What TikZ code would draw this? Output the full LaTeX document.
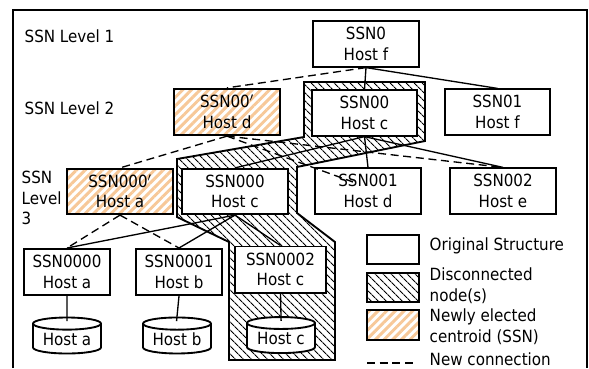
\documentclass[tikz,border=0pt]{standalone}
\usepackage{fontspec}
\setmainfont{DejaVu Sans Condensed}
\usetikzlibrary{shapes.geometric,patterns.meta}

\definecolor{centroid}{RGB}{247,200,152}

\begin{document}
\begin{tikzpicture}[x=0.75pt, y=-0.75pt,
        font=\fontsize{12.6}{15.5}\selectfont,
        ssn/.style={draw, line width=1.4pt, fill=white, align=center,
            minimum width=79pt, minimum height=34pt, inner sep=0pt},
        leaf/.style={ssn, minimum width=64.6pt, minimum height=34.6pt},
        elected/.style={ssn, preaction={fill=white},
            pattern={Lines[angle=45, distance=4.6pt, line width=2.2pt]}, pattern color=centroid},
        gone/.style={draw, line width=1.4pt,
            pattern={Lines[angle=-45, distance=4pt, line width=0.9pt]}},
        host/.style={draw, line width=1.4pt, fill=white, cylinder, shape border rotate=90,
            aspect=0.25, minimum width=51pt, minimum height=27pt, inner sep=0pt},
        link/.style={line width=1pt},
        newlink/.style={line width=1pt, dash pattern=on 6pt off 3.5pt},
        level/.style={align=left, anchor=west},
    ]
    \useasboundingbox (0,0) rectangle (589,368);

    % frame (open at the bottom)
    \draw[line width=1.5pt] (13,368) -- (13,10) -- (587,10) -- (587,368);

    % disconnected part of the tree
    \draw[gone] (304,82) -- (425,82) -- (425,141) -- (297,167) -- (297,213) -- (335,242)
        -- (335,360) -- (229,360) -- (229,242) -- (177,217) -- (177,159) -- (304,137) -- cycle;

    % levels
    \node[level] (lv1) at (20,36) {SSN Level 1};
    \node[level] (lv2) at (20,108) {SSN Level 2};
    \node[level] (lv3) at (17,198) {SSN\\Level\\3};

    % SSN nodes
    \node[ssn] (s0) at (366,44) {SSN0\\Host f};
    \node[elected] (s00p) at (227,112) {SSN00$'$\\Host d};
    \node[ssn] (s00) at (364.5,113) {SSN00\\Host c};
    \node[ssn] (s01) at (497.5,112) {SSN01\\Host f};
    \node[elected] (s000p) at (120,191.5) {SSN000$'$\\Host a};
    \node[ssn] (s000) at (235,191.5) {SSN000\\Host c};
    \node[ssn] (s001) at (368,191) {SSN001\\Host d};
    \node[ssn] (s002) at (503,191) {SSN002\\Host e};
    \node[leaf] (s0000) at (67,272) {SSN0000\\Host a};
    \node[leaf] (s0001) at (179,272) {SSN0001\\Host b};
    \node[leaf, minimum width=68pt] (s0002) at (280.5,269.5) {SSN0002\\Host c};

    % hosts
    \node[host] (ha) at (67,339) {Host a};
    \node[host] (hb) at (177,339) {Host b};
    \node[host] (hc) at (281,338.5) {Host c};

    % original links
    \draw[link] (s0.south) -- (s00.north);
    \draw[link] (s0.south) -- (s01.north);
    \draw[link] (s00.south) -- (s000.north);
    \draw[link] (s00.south) -- (s001.north);
    \draw[link] (s00.south) -- (s002.north);
    \draw[link] (s000.south) -- (s0000.north);
    \draw[link] (s000.south) -- (s0001.north);
    \draw[link] (s000.south) -- (s0002.north);
    \draw[link, shorten >=-3.5pt] (s0000.south) -- (ha.north);
    \draw[link, shorten >=-3.5pt] (s0001.south) -- (hb.north);
    \draw[link, shorten >=-3.5pt] (s0002.south) -- (hc.north);

    % new links
    \coordinate (s001in) at (353,182);
    \draw[newlink] (s0.south) -- (s00p.north);
    \draw[newlink] (s00p.south) -- (s000p.north);
    \draw[newlink] (s00p.south) -- (s001in);
    \draw[newlink] (s00p.south) -- (s002.north);
    \draw[newlink] (s000p.south) -- (s0000.north);
    \draw[newlink] (s000p.south) -- (s0001.north);

    % legend
    \node[ssn, minimum width=39pt, minimum height=22pt] (lgorig) at (393,249.5) {};
    \node[gone, minimum width=39pt, minimum height=22pt] (lggone) at (393,287.5) {};
    \node[elected, minimum width=39pt, minimum height=22pt] (lgnew) at (393,325) {};
    \coordinate (lgdashA) at (367,363);
    \coordinate (lgdashB) at (413,363);
    \draw[newlink] (lgdashA) -- (lgdashB);
    \node[level] (lgorigtxt) at (425,246) {Original Structure};
    \node[level] (lggonetxt) at (425,286) {Disconnected\\node(s)};
    \node[level] (lgnewtxt) at (425,327) {Newly elected\\centroid (SSN)};
    \node[level] (lgdashtxt) at (425,359) {New connection};
\end{tikzpicture}
\end{document}
